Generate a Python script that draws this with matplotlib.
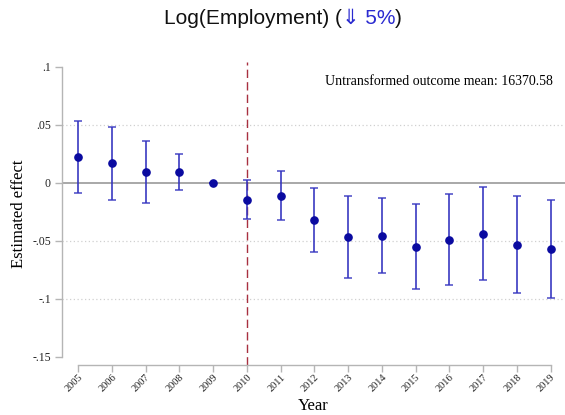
import matplotlib
matplotlib.use("Agg")
import matplotlib.pyplot as plt
import numpy as np

# Event-study estimates for log employment (2009 is the reference year)
years = [2005, 2006, 2007, 2008, 2009, 2010, 2011, 2012, 2013, 2014,
         2015, 2016, 2017, 2018, 2019]
estimates = [0.0224, 0.0170, 0.0097, 0.0092, 0.0, -0.0144, -0.0112, -0.0318,
             -0.0466, -0.0457, -0.0549, -0.0490, -0.0442, -0.0532, -0.0570]
ci_upper = [0.0535, 0.0483, 0.0362, 0.0253, 0.0, 0.0026, 0.0101, -0.0046,
            -0.0110, -0.0132, -0.0181, -0.0098, -0.0031, -0.0110, -0.0144]
ci_lower = [-0.0084, -0.0145, -0.0169, -0.0063, 0.0, -0.0313, -0.0322, -0.0592,
            -0.0818, -0.0776, -0.0914, -0.0879, -0.0839, -0.0948, -0.0989]
y_ticks = [0.1, 0.05, 0.0, -0.05, -0.1, -0.15]
y_tick_labels = [".1", ".05", "0", "-.05", "-.1", "-.15"]
grid_levels = [0.05, -0.05, -0.1]
treatment_year = 2010
outcome_mean = 16370.58
pct_change = "5%"

W, H = 565, 415
fig = plt.figure(figsize=(W / 100, H / 100), dpi=100)
ax = fig.add_axes([62 / W, 1 - 365 / H, (565 - 62) / W, (365 - 62) / H])

serif = "Liberation Serif"
est = np.array(estimates)
yerr = np.vstack([est - np.array(ci_lower), np.array(ci_upper) - est])

# reference lines
for g in grid_levels:
    ax.axhline(g, color="#d0d0d0", lw=0.9, ls=(0, (1, 2)), zorder=1)
ax.axhline(0, color="#a8a8a8", lw=1.4, zorder=1)
ax.axvline(treatment_year, color="#a83040", lw=1.0, ls=(0, (6, 3)), zorder=2)

ax.errorbar(years, est, yerr=yerr, fmt="none", ecolor="#3535c0", elinewidth=1.3,
            capsize=2.6, capthick=1.1, alpha=0.9, zorder=3)
ax.plot(years, est, "o", color="#0a0aa0", ms=5.2, zorder=4)

ax.set_xlim(2004.526, 2019.424)
ax.set_ylim(-0.1569, 0.1043)

for s in ["top", "right"]:
    ax.spines[s].set_visible(False)
ax.spines["left"].set_bounds(-0.15, 0.1)
ax.spines["bottom"].set_bounds(years[0], years[-1])
for s in ["left", "bottom"]:
    ax.spines[s].set_color("#b5b5b5")
    ax.spines[s].set_linewidth(1.0)

ax.set_yticks(y_ticks)
ax.set_yticklabels(y_tick_labels, fontfamily=serif, fontsize=8.5, color="#222222")
ax.set_xticks(years)
ax.set_xticklabels([str(y) for y in years], rotation=45, ha="right",
                   rotation_mode="anchor", fontfamily=serif, fontsize=7.5,
                   color="#222222")
ax.tick_params(axis="both", color="#b5b5b5", length=5, width=1.0)
ax.tick_params(axis="y", pad=3)
ax.tick_params(axis="x", pad=0.5)

ax.set_ylabel("Estimated effect", fontfamily=serif, fontsize=12, labelpad=4)
ax.set_xlabel("Year", fontfamily=serif, fontsize=12, labelpad=3)

ax.text(0.975, 0.935, f"Untransformed outcome mean: {outcome_mean:.2f}",
        transform=ax.transAxes, ha="right", va="center", fontfamily=serif,
        fontsize=10)

# Title with the direction/size of the change in blue
fam = ["Liberation Sans", "DejaVu Sans"]
parts = [("Log(Employment) (", "#111111"), ("\u21d3 " + pct_change, "#2a2ad0"),
         (")", "#111111")]
fig.canvas.draw()
renderer = fig.canvas.get_renderer()
texts = [fig.text(0, 1 - 18 / H, t, color=c, fontsize=15, family=fam,
                  va="center", ha="left") for t, c in parts]
widths = [t.get_window_extent(renderer).width for t in texts]
x = (283 - sum(widths) / 2)
for t, w in zip(texts, widths):
    t.set_x(x / W)
    x += w

fig.savefig("out.png", dpi=100)
